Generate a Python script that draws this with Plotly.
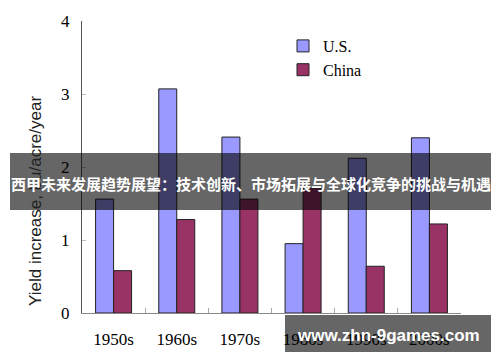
import plotly.graph_objects as go

decades = ["1950s", "1960s", "1970s", "1980s", "1990s", "2000s"]
us_values = [1.56, 3.07, 2.41, 0.95, 2.12, 2.40]
china_values = [0.58, 1.28, 1.56, 1.71, 0.64, 1.22]
y_ticks = [0, 1, 2, 3, 4]
y_title = "Yield increase, bu/acre/year"
banner_text = "西甲未来发展趋势展望：技术创新、市场拓展与全球化竞争的挑战与机遇"
watermark_text = "www.zhn-9games.com"

W, H = 500, 362
L, R, T, B = 82, 39, 21, 49
pw, ph = W - L - R, H - T - B


def px(x):
    return (x - L) / pw


def py(y):
    return (H - B - y) / ph


serif = "Liberation Serif, Times New Roman, serif"
sans = "Liberation Sans, Arial, sans-serif"
cjk = "Noto Sans CJK SC, sans-serif"

fig = go.Figure()
fig.add_trace(go.Bar(x=decades, y=us_values, name="U.S.",
                     marker=dict(color="#9999FF", line=dict(color="#222", width=1))))
fig.add_trace(go.Bar(x=decades, y=china_values, name="China",
                     marker=dict(color="#993366", line=dict(color="#222", width=1))))

fig.update_layout(
    width=W, height=H,
    margin=dict(l=L, r=R, t=T, b=B),
    paper_bgcolor="white", plot_bgcolor="white",
    barmode="group", bargap=0.43, bargroupgap=0,
    font=dict(family=serif, color="black"),
    legend=dict(x=px(283), y=py(29), xanchor="left", yanchor="top",
                font=dict(family=serif, size=16, color="black"),
                bgcolor="rgba(0,0,0,0)", itemwidth=30, tracegroupgap=0),
    xaxis=dict(range=[-0.5, 5.5], showline=True, linecolor="#888", linewidth=1,
               ticks="inside", tickson="boundaries", ticklen=5, tickcolor="#aaa",
               tickfont=dict(family=serif, size=17, color="black"),
               ticklabelstandoff=11, showgrid=False, zeroline=False),
    yaxis=dict(range=[0, 4], tickvals=y_ticks, showline=True, linecolor="#555",
               linewidth=1, ticks="inside", ticklen=4, tickcolor="#bbb",
               tickfont=dict(family=serif, size=17, color="black"),
               ticklabelstandoff=8, showgrid=False, zeroline=False),
)

fig.add_annotation(text=y_title, xref="paper", yref="paper", x=px(35), y=py(201),
                   textangle=-90, showarrow=False, xanchor="center", yanchor="middle",
                   font=dict(family=sans, size=17, color="#222"))

fig.add_shape(type="rect", xref="paper", yref="paper", x0=px(10), x1=px(491),
              y0=py(210), y1=py(153), fillcolor="rgba(0,0,0,0.6)", line=dict(width=0),
              layer="above")
fig.add_annotation(text="<b>" + banner_text + "</b>", xref="paper", yref="paper",
                   x=px(250.5), y=py(183), showarrow=False, xanchor="center", yanchor="middle",
                   font=dict(family=cjk, size=15, color="white"))

fig.add_shape(type="rect", xref="paper", yref="paper", x0=px(285), x1=px(491),
              y0=py(352), y1=py(315), fillcolor="rgba(0,0,0,0.6)", line=dict(width=0),
              layer="above")
fig.add_annotation(text="<b>" + watermark_text + "</b>", xref="paper", yref="paper",
                   x=px(388), y=py(335), showarrow=False, xanchor="center", yanchor="middle",
                   font=dict(family=sans, size=17, color="white"))

fig.write_html("out.html", config={"displayModeBar": False},
               post_script="document.body.style.margin='0';")
